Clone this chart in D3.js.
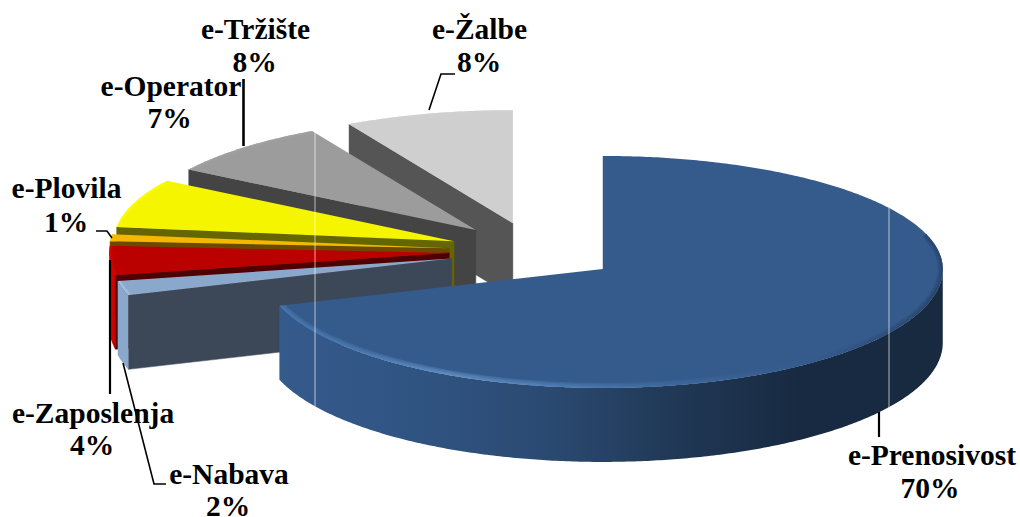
<!DOCTYPE html>
<html><head><meta charset="utf-8">
<style>html,body{margin:0;padding:0;background:#fff}svg{display:block}</style>
<script src="https://cdn.jsdelivr.net/npm/d3@7/dist/d3.min.js"></script>
</head><body><script>
const categories = ["e-Prenosivost","e-Nabava","e-Zaposlenja","e-Plovila","e-Operator","e-Tržište","e-Žalbe"];
const shares = [70,2,4,1,7,8,8];
const percentLabels = ["70%","2%","4%","1%","7%","8%","8%"];
const topColors = ["#355a8c","#8aa8cc","#bb0000","#f4b800","#f5f500","#9c9c9c","#cfcfcf"];
const wallColors = ["#233c5e","#3c4858","#4f0000","#6b4a00","#666600","#444444","#555555"];
const bevelColors = ["#4d7fb8","#b8d4f4","#ee0000","#ffc800","#ffff00","#a4a4a4","#d2d2d2"];
const explosion = 0.25;
const W = 1020, H = 517;
const cx = 534, cy = 251, rx = 340, ryBack = 113, ryFront = 119, depth = 74;

const svg = d3.select("body").append("svg").attr("width",W).attr("height",H);
const defs = svg.append("defs");
const arcs = d3.pie().sort(null).value(d=>d).startAngle(0).endAngle(2*Math.PI)(shares);

const ry = a => Math.cos(a) >= 0 ? ryBack : ryFront;
const pt = (c,r,a) => [c[0] + r*rx*Math.sin(a), c[1] - r*ry(a)*Math.cos(a)];
const apexOf = d => {
  const m = (d.startAngle+d.endAngle)/2;
  const ro = Math.cos(m) >= 0 ? 115 : 122;
  return [cx + explosion*rx*Math.sin(m), cy - explosion*ro*Math.cos(m)];
};
const line = d3.line();
const sample = (a0,a1,c,r=1,dy=0) => {
  const n = Math.max(2, Math.ceil(Math.abs(a1-a0)/0.01));
  return d3.range(n+1).map(i => { const p = pt(c,r,a0+(a1-a0)*i/n); return [p[0],p[1]+dy]; });
};

const rimGrad = defs.append("linearGradient").attr("id","rimBlue")
  .attr("gradientUnits","userSpaceOnUse").attr("x1",280).attr("x2",943).attr("y1",0).attr("y2",0);
[[0,"#355a8c"],[.2,"#305482"],[.4,"#2b4a72"],[.6,"#203855"],[.78,"#182a42"],[1,"#172a40"]]
  .forEach(s=>rimGrad.append("stop").attr("offset",s[0]).attr("stop-color",s[1]));
const redGrad = defs.append("linearGradient").attr("id","rimRed")
  .attr("gradientUnits","userSpaceOnUse").attr("x1",109).attr("x2",119).attr("y1",0).attr("y2",0);
[[0,"#ee0000"],[1,"#a80000"]].forEach(s=>redGrad.append("stop").attr("offset",s[0]).attr("stop-color",s[1]));
const bevGrad = defs.append("linearGradient").attr("id","bevBlue")
  .attr("gradientUnits","userSpaceOnUse").attr("x1",280).attr("x2",943).attr("y1",0).attr("y2",0);
[[0,"#4a7cb4"],[.12,"#4f80b8"],[.25,"#6a98cc"],[.45,"#4f80b8"],[.6,"#3f6a9e"],[.8,"#355a8c"],[1,"#243f62"]]
  .forEach(s=>bevGrad.append("stop").attr("offset",s[0]).attr("stop-color",s[1]));

const rimFill = i => i===0 ? "url(#rimBlue)" : i===2 ? "url(#rimRed)" : i===1 ? topColors[1] : wallColors[i];
const bevelFill = i => i===0 ? "url(#bevBlue)" : bevelColors[i];

const order = d3.range(arcs.length).reverse();
order.forEach(i => {
  const d = arcs[i], c = apexOf(d), g = svg.append("g").attr("class","slice");
  [[d.startAngle,-Math.sin(d.startAngle)],[d.endAngle,Math.sin(d.endAngle)]].forEach(([a,ny])=>{
    if (ny > 1e-6) {
      const p = pt(c,1,a);
      g.append("path").attr("fill",wallColors[i]).attr("stroke",wallColors[i]).attr("stroke-width",.5)
       .attr("d",line([c,p,[p[0],p[1]+depth],[c[0],c[1]+depth]])+"Z");
    }
  });
  const a0 = Math.max(d.startAngle, Math.PI/2), a1 = Math.min(d.endAngle, 3*Math.PI/2);
  if (a1 > a0) {
    const upper = sample(a0,a1,c), lower = sample(a1,a0,c,1,depth);
    g.append("path").attr("fill",rimFill(i)).attr("d",line(upper.concat(lower))+"Z");
  }
  const face = line([c].concat(sample(d.startAngle,d.endAngle,c)))+"Z";
  g.append("path").attr("fill",topColors[i]).attr("d",face);
  const id = "clip"+i;
  defs.append("clipPath").attr("id",id).append("path").attr("d",face);
  const bev = g.append("g").attr("clip-path",`url(#${id})`);
  (i===0?[10,7,4,2]:[6,3]).forEach(w=>bev.append("path")
    .attr("fill","none").attr("stroke",bevelFill(i)).attr("stroke-width",w).attr("stroke-opacity",.35)
    .attr("d",line(sample(d.startAngle+(i===0?Math.PI*.4:0),d.endAngle,c))));
});

[[315,131,408],[889,208,408]].forEach(s=>{
  svg.append("line").attr("x1",s[0]).attr("x2",s[0]).attr("y1",s[1]).attr("y2",s[2])
    .attr("stroke","#fff").attr("stroke-opacity",.65).attr("stroke-width",1);
});

const leaders = [
  {w:2.2,p:[[879,412],[879,437]]},
  {w:1.6,p:[[123,363],[154,484],[166,484]]},
  {w:2.2,p:[[110,260],[110,394]]},
  {w:1.6,p:[[96,231],[107,231],[112,238]]},
  {w:2.6,p:[[243.5,79],[243.5,146]]},
  null,
  {w:1.6,p:[[455,74],[441,74],[429,110]]}
];
const labelAt = [[932,465,930,498],[229,484,228,516],[93,423,92,455],[66.5,198,66,232],[171,96,169.5,128],[255.5,39,254.5,72],[479.5,39,479,72]];
leaders.forEach(l=>{ if(l) svg.append("path").attr("fill","none").attr("stroke","#000").attr("stroke-width",l.w).attr("d",line(l.p)); });
const put = (x,y,t) => svg.append("text").attr("x",x).attr("y",y).attr("text-anchor","middle").text(t)
    .style("font-family","Liberation Serif").style("font-weight","bold").style("font-size","29.5px");
categories.forEach((t,i)=>{
  const a = labelAt[i];
  put(a[0],a[1],t);
  put(a[2],a[3],percentLabels[i]);
});
</script></body></html>
